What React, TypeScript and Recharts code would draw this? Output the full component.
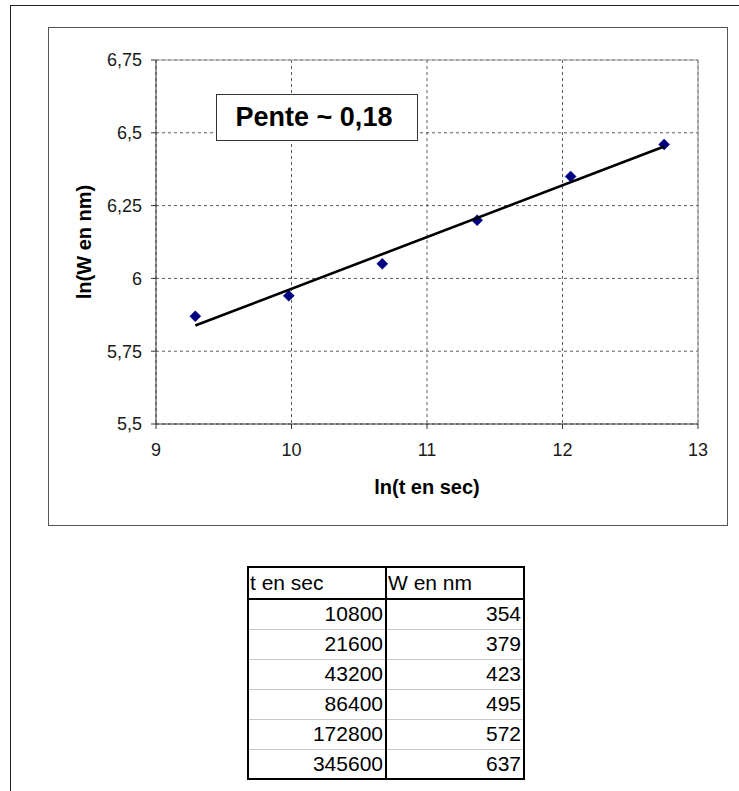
import React from "react";
import {
  ScatterChart,
  Scatter,
  XAxis,
  YAxis,
  CartesianGrid,
  ReferenceLine,
} from "recharts";

// ln(t en sec) / ln(W en nm) points
const lnT = [9.29, 9.98, 10.67, 11.37, 12.06, 12.75];
const lnW = [5.87, 5.94, 6.05, 6.2, 6.35, 6.46];

// trend line end points (linear fit, slope ~0,18)
const trendX = [9.29, 12.75];
const trendY = [5.838, 6.453];

const xTicks = [9, 10, 11, 12, 13];
const yTicks = [5.5, 5.75, 6, 6.25, 6.5, 6.75];

const annotation = "Pente ~ 0,18";
const xTitle = "ln(t en sec)";
const yTitle = "ln(W en nm)";

// table
const tableHeaders = ["t en sec", "W en nm"];
const tSec = [10800, 21600, 43200, 86400, 172800, 345600];
const wNm = [354, 379, 423, 495, 572, 637];

const points = lnT.map((x, i) => ({ x, y: lnW[i] }));
const trend = trendX.map((x, i) => ({ x, y: trendY[i] }));

const FONT = "'Liberation Sans', Arial, sans-serif";

const fmt = (v: number) => String(v).replace(".", ",");

const Diamond = (props: any) => {
  const { cx, cy } = props;
  if (cx == null || cy == null) return null;
  const r = 5.5;
  return (
    <polygon
      points={`${cx},${cy - r} ${cx + r},${cy} ${cx},${cy + r} ${cx - r},${cy}`}
      fill="#000080"
      stroke="#000080"
      strokeWidth={0.5}
    />
  );
};

const NoShape = () => null;

const XTick = (props: any) => {
  const { x, y, payload } = props;
  return (
    <text
      x={x}
      y={y}
      dy="0.71em"
      textAnchor="middle"
      fontFamily={FONT}
      fontSize={18}
      fill="#1a1a1a"
    >
      {fmt(payload.value)}
    </text>
  );
};

const YTick = (props: any) => {
  const { x, y, payload } = props;
  return (
    <text
      x={x}
      y={y}
      dy="0.355em"
      textAnchor="end"
      fontFamily={FONT}
      fontSize={18}
      fill="#1a1a1a"
    >
      {fmt(payload.value)}
    </text>
  );
};

export default function App() {
  return (
    <div
      style={{
        position: "absolute",
        left: 0,
        top: 0,
        width: 739,
        height: 791,
        overflow: "hidden",
        background: "#fff",
        fontFamily: FONT,
      }}
    >
      {/* outer border */}
      <div
        style={{
          position: "absolute",
          left: 10,
          top: 5,
          width: 760,
          height: 820,
          border: "1.5px solid #222",
          boxSizing: "border-box",
        }}
      />
      {/* chart area border */}
      <div
        style={{
          position: "absolute",
          left: 48,
          top: 27,
          width: 680,
          height: 499,
          border: "1.5px solid #555",
          boxSizing: "border-box",
          background: "#fff",
        }}
      />
      <div style={{ position: "absolute", left: 0, top: 0 }}>
        <ScatterChart
          width={739}
          height={540}
          margin={{ top: 60, right: 41, bottom: 86, left: 0 }}
        >
          <CartesianGrid
            stroke="#5a5a5a"
            strokeDasharray="3 3"
            strokeWidth={1}
          />
          <XAxis
            type="number"
            dataKey="x"
            domain={[9, 13]}
            ticks={xTicks}
            interval={0}
            height={30}
            stroke="#333"
            tickSize={5}
            tickMargin={14}
            tick={<XTick />}
            allowDataOverflow
            label={{
              content: (p: any) => {
                const vb = p.viewBox || {};
                return (
                  <text
                    x={vb.x + vb.width / 2}
                    y={494}
                    textAnchor="middle"
                    fontFamily={FONT}
                    fontSize={20}
                    fontWeight="bold"
                    fill="#000"
                  >
                    {xTitle}
                  </text>
                );
              },
            }}
          />
          <YAxis
            type="number"
            dataKey="y"
            domain={[5.5, 6.75]}
            ticks={yTicks}
            interval={0}
            width={156}
            stroke="#333"
            tickSize={5}
            tickMargin={9}
            tick={<YTick />}
            allowDataOverflow
            label={{
              content: (p: any) => {
                const vb = p.viewBox || {};
                const cy = vb.y + vb.height / 2;
                return (
                  <text
                    x={91}
                    y={cy}
                    transform={`rotate(-90, 91, ${cy})`}
                    textAnchor="middle"
                    fontFamily={FONT}
                    fontSize={20}
                    fontWeight="bold"
                    fill="#000"
                  >
                    {yTitle}
                  </text>
                );
              },
            }}
          />
          <ReferenceLine y={6.75} stroke="#999" strokeWidth={1.2} />
          <ReferenceLine x={13} stroke="#999" strokeWidth={1.2} />
          <Scatter
            data={points}
            shape={<Diamond />}
            isAnimationActive={false}
          />
          <Scatter
            data={trend}
            line={{ stroke: "#000", strokeWidth: 2.6 }}
            lineType="joint"
            shape={<NoShape />}
            isAnimationActive={false}
          />
        </ScatterChart>
      </div>
      {/* annotation box */}
      <div
        style={{
          position: "absolute",
          left: 216,
          top: 94,
          width: 202,
          height: 47,
          border: "1.5px solid #333",
          boxSizing: "border-box",
          background: "#fff",
          display: "flex",
          alignItems: "center",
          justifyContent: "center",
          paddingRight: 6,
          fontFamily: FONT,
          fontWeight: "bold",
          fontSize: 27,
          color: "#000",
        }}
      >
        {annotation}
      </div>
      {/* data table */}
      <table
        style={{
          position: "absolute",
          left: 247,
          top: 566,
          width: 276,
          borderCollapse: "collapse",
          border: "2px solid #000",
          fontFamily: FONT,
          fontSize: 21,
          color: "#000",
          tableLayout: "fixed",
        }}
      >
        <colgroup>
          <col style={{ width: 138 }} />
          <col style={{ width: 138 }} />
        </colgroup>
        <thead>
          <tr style={{ height: 32 }}>
            {tableHeaders.map((h, i) => (
              <th
                key={h}
                style={{
                  textAlign: "left",
                  fontWeight: "normal",
                  fontSize: 21,
                  padding: "0 0 0 1px",
                  borderBottom: "2px solid #000",
                  borderRight: i === 0 ? "2px solid #000" : undefined,
                  lineHeight: "28px",
                }}
              >
                {h}
              </th>
            ))}
          </tr>
        </thead>
        <tbody>
          {tSec.map((t, i) => (
            <tr key={t} style={{ height: 30 }}>
              <td
                style={{
                  textAlign: "right",
                  fontSize: 21,
                  padding: "0 2px 0 0",
                  borderRight: "2px solid #000",
                  borderTop: i > 0 ? "1px solid #c8c8c8" : undefined,
                  lineHeight: "28px",
                }}
              >
                {t}
              </td>
              <td
                style={{
                  textAlign: "right",
                  fontSize: 21,
                  padding: "0 2px 0 0",
                  borderTop: i > 0 ? "1px solid #c8c8c8" : undefined,
                  lineHeight: "28px",
                }}
              >
                {wNm[i]}
              </td>
            </tr>
          ))}
        </tbody>
      </table>
    </div>
  );
}
